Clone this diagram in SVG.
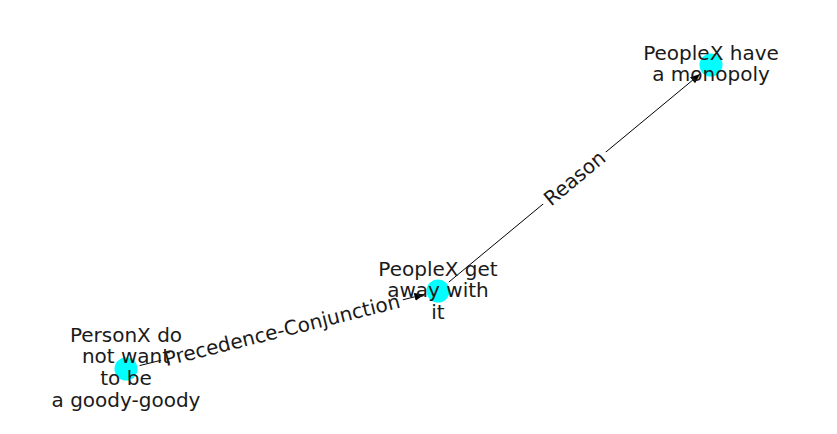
<svg xmlns="http://www.w3.org/2000/svg" width="837" height="434" viewBox="0 0 837 434">
<defs>
<style>
.edge{stroke:#000;stroke-width:1;fill:none}
.node{fill:#00ffff}
.lbl{font-family:"DejaVu Sans",sans-serif;font-size:20px;fill:#1a1a1a;text-anchor:middle}
.ebox{fill:#fff;stroke:#fff}
</style>
<marker id="arr" markerUnits="userSpaceOnUse" markerWidth="12" markerHeight="10" refX="10" refY="4" orient="auto">
<path d="M0,0 L10,4 L0,8 Z" fill="#000"/>
</marker>
</defs>
<rect width="837" height="434" fill="#fff"/>
<g id="edges">
<line class="edge" x1="139.6" y1="365.6" x2="424.4" y2="294.4" marker-end="url(#arr)"/>
<line class="edge" x1="448.8" y1="282.1" x2="700.2" y2="73.9" marker-end="url(#arr)"/>
</g>
<g id="edge-labels">
<g transform="translate(282,330) rotate(-14.04)">
<rect class="ebox" x="-124" y="-13" width="248" height="26" rx="5"/>
<text class="lbl" x="0" y="7">Precedence-Conjunction</text>
</g>
<g transform="translate(574.5,178) rotate(-39.62)">
<rect class="ebox" x="-40" y="-13" width="80" height="26" rx="5"/>
<text class="lbl" x="0" y="7">Reason</text>
</g>
</g>
<g id="node-a">
<circle class="node" cx="711" cy="65" r="11.5"/>
<text class="lbl" x="711" y="59.8">PeopleX have</text>
<text class="lbl" x="711" y="81.4">a monopoly</text>
</g>
<g id="node-b">
<circle class="node" cx="438" cy="291" r="11.5"/>
<text class="lbl" x="438" y="275.6">PeopleX get</text>
<text class="lbl" x="438" y="297.2">away with</text>
<text class="lbl" x="438" y="318.8">it</text>
</g>
<g id="node-c">
<circle class="node" cx="126" cy="369" r="11.5"/>
<text class="lbl" x="126" y="341.8">PersonX do</text>
<text class="lbl" x="126" y="363.4">not want</text>
<text class="lbl" x="126" y="385">to be</text>
<text class="lbl" x="126" y="406.6">a goody-goody</text>
</g>
</svg>
